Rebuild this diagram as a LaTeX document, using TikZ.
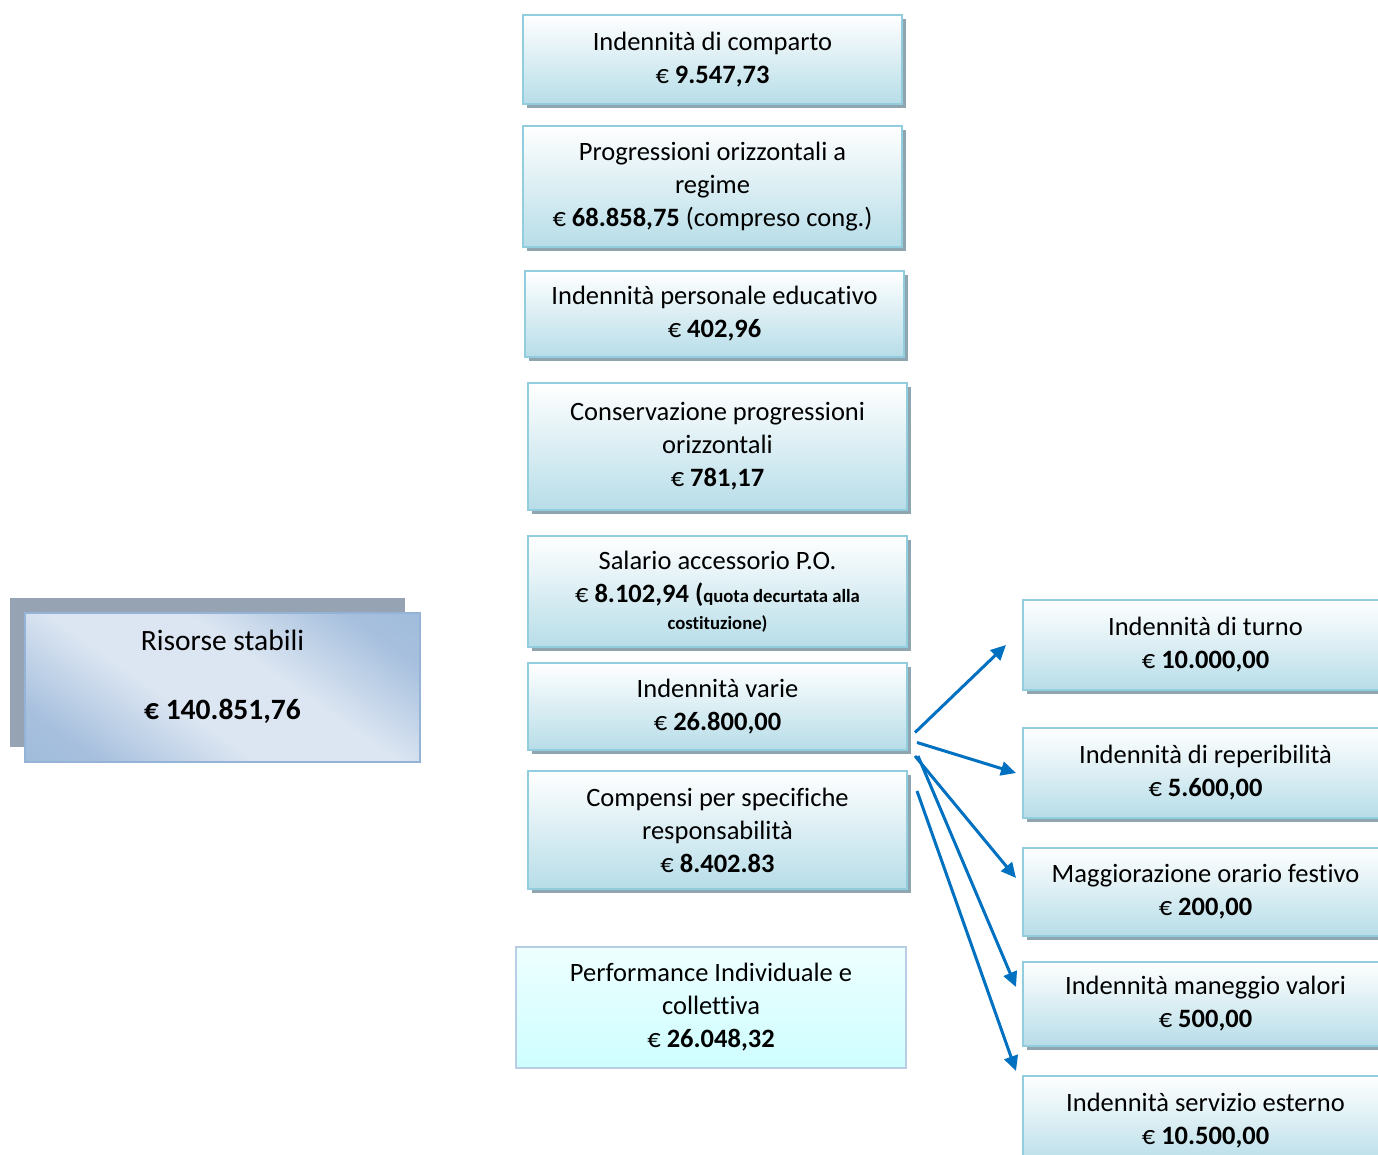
\documentclass[tikz,border=0pt]{standalone}
\usepackage{fontspec}
\setmainfont{Carlito}[Ligatures={NoCommon}]
\usepackage{tikz}
\usetikzlibrary{shadows,arrows.meta}

\definecolor{boxblue}{RGB}{183,221,232}
\definecolor{boxedge}{RGB}{146,205,221}
\definecolor{boxshadow}{RGB}{143,166,176}
\definecolor{perfcyan}{RGB}{206,254,255}
\definecolor{perfedge}{RGB}{185,205,229}
\definecolor{rsdark}{RGB}{149,179,215}
\definecolor{rslight}{RGB}{220,230,242}
\definecolor{rsshadow}{RGB}{149,163,179}
\definecolor{arrowblue}{RGB}{0,112,192}

\pgfdeclarehorizontalshading{risorseshade}{100bp}{color(0bp)=(rsdark); color(24bp)=(rsdark!75!rslight); color(42bp)=(rslight); color(58bp)=(rslight); color(76bp)=(rsdark!75!rslight); color(100bp)=(rsdark)}

\begin{document}
\begin{tikzpicture}[x=1pt, y=-1pt]
    \tikzstyle{every node} = [font=\fontsize{26.5}{33}\selectfont, align=center, inner sep=0pt];
    \tikzstyle{voce} = [draw=boxedge, line width=2pt, top color=white, bottom color=boxblue,
        minimum width=379pt, drop shadow={shadow xshift=4pt, shadow yshift=-4pt, fill=boxshadow, opacity=1}];
    \tikzstyle{destra} = [voce, minimum width=365pt];
    \tikzstyle{freccia} = [draw=arrowblue, line width=3pt, -{Triangle[length=15pt, width=14pt]}];
    \useasboundingbox (0,0) rectangle (1378,1155);
    % left box:
    \node[draw=rsdark, line width=2pt, shading=risorseshade, shading angle=55,
        minimum width=395pt, minimum height=149pt, font=\fontsize{29.5}{36}\selectfont,
        drop shadow={shadow xshift=-15pt, shadow yshift=15pt, fill=rsshadow, opacity=1}]
        (risorse) at (222.5,687.5) {Risorse stabili\\[33pt]\textbf{€ 140.851,76}\\[-22pt]\strut};
    % middle column:
    \node[voce, minimum height=89pt] (comparto) at (712.5,59.5) {Indennità di comparto\\€ \textbf{9.547,73}};
    \node[voce, minimum height=121pt] (progressioni) at (712.5,186.5) {Progressioni orizzontali a\\regime\\€ \textbf{68.858,75} (compreso cong.)};
    \node[voce, minimum height=86pt] (educativo) at (714.5,314) {Indennità personale educativo\\€ \textbf{402,96}};
    \node[voce, minimum height=127pt] (conservazione) at (717.5,446.5) {Conservazione progressioni\\orizzontali\\€ \textbf{781,17}};
    \node[voce, minimum height=111pt] (salario) at (717.5,591.5) {Salario accessorio P.O.\\€ \textbf{8.102,94 (}{\fontsize{18.7}{22}\selectfont\bfseries quota decurtata alla}\\[-6pt]{\fontsize{18.7}{22}\selectfont\bfseries costituzione)}};
    \node[voce, minimum height=87pt] (varie) at (717.5,706.5) {Indennità varie\\€ \textbf{26.800,00}};
    \node[voce, minimum height=118pt] (compensi) at (717.5,830) {Compensi per specifiche\\responsabilità\\€ \textbf{8.402.83}};
    \node[draw=perfedge, line width=2.5pt, top color=perfcyan!35!white, bottom color=perfcyan,
        minimum width=390pt, minimum height=121pt] (performance) at (711,1007.5) {Performance Individuale e\\collettiva\\€ \textbf{26.048,32}};
    % right column:
    \node[destra, minimum height=90pt] (turno) at (1205.5,645) {Indennità di turno\\€ \textbf{10.000,00}};
    \node[destra, minimum height=90pt] (reperibilita) at (1205.5,773) {Indennità di reperibilità\\€ \textbf{5.600,00}};
    \node[destra, minimum height=88pt] (festivo) at (1205.5,892) {Maggiorazione orario festivo\\€ \textbf{200,00}};
    \node[destra, minimum height=84pt] (maneggio) at (1205.5,1004) {Indennità maneggio valori\\€ \textbf{500,00}};
    \node[destra, minimum height=90pt] (esterno) at (1205.5,1121) {Indennità servizio esterno\\€ \textbf{10.500,00}};
    % arrows:
    \draw[freccia] ([xshift=7pt, yshift=-26pt]varie.east) -- ([xshift=-16pt]turno.west);
    \draw[freccia] ([xshift=9pt, yshift=-36pt]varie.east) -- ([xshift=-6pt]reperibilita.west);
    \draw[freccia] ([xshift=7pt, yshift=-5pt]varie.south east) -- ([xshift=-6pt, yshift=14pt]festivo.west);
    \draw[freccia] ([xshift=10pt, yshift=-5pt]varie.south east) -- ([xshift=-6pt, yshift=17pt]maneggio.west);
    \draw[freccia] ([xshift=9pt, yshift=39pt]compensi.east) -- ([xshift=-6pt, yshift=4pt]esterno.north west);
\end{tikzpicture}
\end{document}
